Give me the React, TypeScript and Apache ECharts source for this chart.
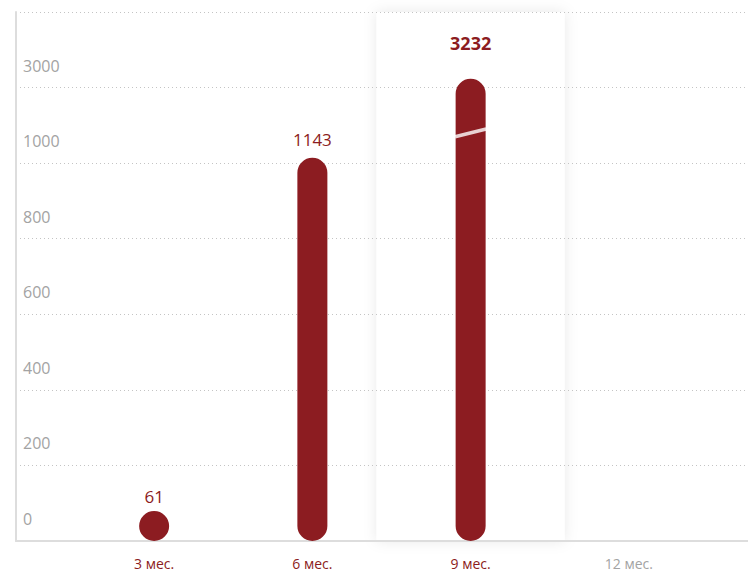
import React, { useEffect, useRef } from "react";
import * as echarts from "echarts";

// Broken (piecewise) value scale: each tick step takes the same height
const tickValues = [0, 200, 400, 600, 800, 1000, 3000, 5000];
const tickLabels = ["0", "200", "400", "600", "800", "1000", "3000", ""];

const categories = ["3 мес.", "6 мес.", "9 мес.", "12 мес."];
const values: (number | null)[] = [61, 1143, 3232, null];
const activeCategories = ["3 мес.", "6 мес.", "9 мес."];
const highlightedCategory = "9 мес.";
// value where the scale break mark is drawn on the highlighted bar
const breakValue = 1800;

const RED = "#8c1c21";
const GRAY = "#a3a3a3";
const FONT = "Open Sans";

function toAxis(v: number): number {
  for (let i = 0; i < tickValues.length - 1; i++) {
    if (v <= tickValues[i + 1]) {
      return i + (v - tickValues[i]) / (tickValues[i + 1] - tickValues[i]);
    }
  }
  return tickValues.length - 1;
}

export default function App() {
  const ref = useRef<HTMLDivElement>(null);

  useEffect(() => {
    if (!ref.current) return;
    const chart = echarts.init(ref.current, undefined, { renderer: "svg" });
    const maxIdx = tickValues.length - 1;

    const option: any = {
      animation: false,
      grid: [
        { left: 16, right: 0, top: 12, bottom: 30 },
        { left: 75, right: 40, top: 12, bottom: 30 },
      ],
      xAxis: [
        {
          gridIndex: 0,
          type: "category",
          data: categories,
          z: 2,
          axisLine: { show: true, lineStyle: { color: "#dddddd", width: 2 } },
          axisTick: { show: false },
          axisLabel: { show: false },
          splitLine: { show: false },
        },
        {
          gridIndex: 1,
          type: "category",
          data: categories.map((c) => ({
            value: c,
            textStyle: { color: activeCategories.includes(c) ? RED : GRAY },
          })),
          axisLine: { show: false },
          axisTick: { show: false },
          axisLabel: { fontFamily: FONT, fontSize: 14, margin: 15 },
        },
        {
          gridIndex: 1,
          type: "category",
          data: categories,
          show: false,
        },
      ],
      yAxis: [
        {
          gridIndex: 0,
          type: "value",
          min: 0,
          max: maxIdx,
          interval: 1,
          z: 2,
          axisLine: { show: true, lineStyle: { color: "#dddddd", width: 2 } },
          axisTick: { show: false },
          splitLine: {
            show: true,
            lineStyle: { color: "#c4c4c4", type: [1, 3], width: 1 },
          },
          axisLabel: {
            inside: true,
            margin: 7,
            color: GRAY,
            fontFamily: FONT,
            fontSize: 16,
            verticalAlign: "bottom",
            padding: [0, 0, 14, 0],
            formatter: (v: number) => tickLabels[Math.round(v)] ?? "",
          },
        },
        {
          gridIndex: 1,
          type: "value",
          min: 0,
          max: maxIdx,
          interval: 1,
          show: false,
          splitLine: { show: false },
        },
      ],
      series: [
        {
          type: "bar",
          xAxisIndex: 2,
          yAxisIndex: 1,
          silent: true,
          z: 1,
          barWidth: 188,
          itemStyle: {
            color: "#ffffff",
            shadowBlur: 14,
            shadowColor: "rgba(0,0,0,0.09)",
          },
          data: categories.map((c) => (c === highlightedCategory ? maxIdx : null)),
        },
        {
          type: "bar",
          xAxisIndex: 1,
          yAxisIndex: 1,
          z: 3,
          barWidth: 30,
          barMinHeight: 30,
          itemStyle: { color: RED, borderRadius: 15 },
          label: {
            show: true,
            position: "top",
            distance: 10,
            color: RED,
            fontFamily: FONT,
            fontSize: 17,
            formatter: (p: any) => String(values[p.dataIndex] ?? ""),
          },
          data: values.map((v, i) => {
            if (v === null) return null;
            const item: any = { value: toAxis(v) };
            if (categories[i] === highlightedCategory) {
              item.label = { fontWeight: "bold", fontSize: 18, distance: 27 };
            }
            if (i === 0) {
              item.label = { distance: 6 };
            }
            return item;
          }),
        },
        {
          type: "scatter",
          xAxisIndex: 1,
          yAxisIndex: 1,
          z: 4,
          silent: true,
          symbol: "rect",
          symbolSize: [32, 3.5],
          symbolRotate: 14,
          itemStyle: { color: "#ffffff" },
          data: categories.map((c) =>
            c === highlightedCategory ? toAxis(breakValue) : null
          ),
        },
      ],
    };

    chart.setOption(option);
    return () => chart.dispose();
  }, []);

  return (
    <div
      ref={ref}
      style={{ position: "fixed", left: 0, top: 0, width: 748, height: 571, background: "#fff" }}
    />
  );
}
